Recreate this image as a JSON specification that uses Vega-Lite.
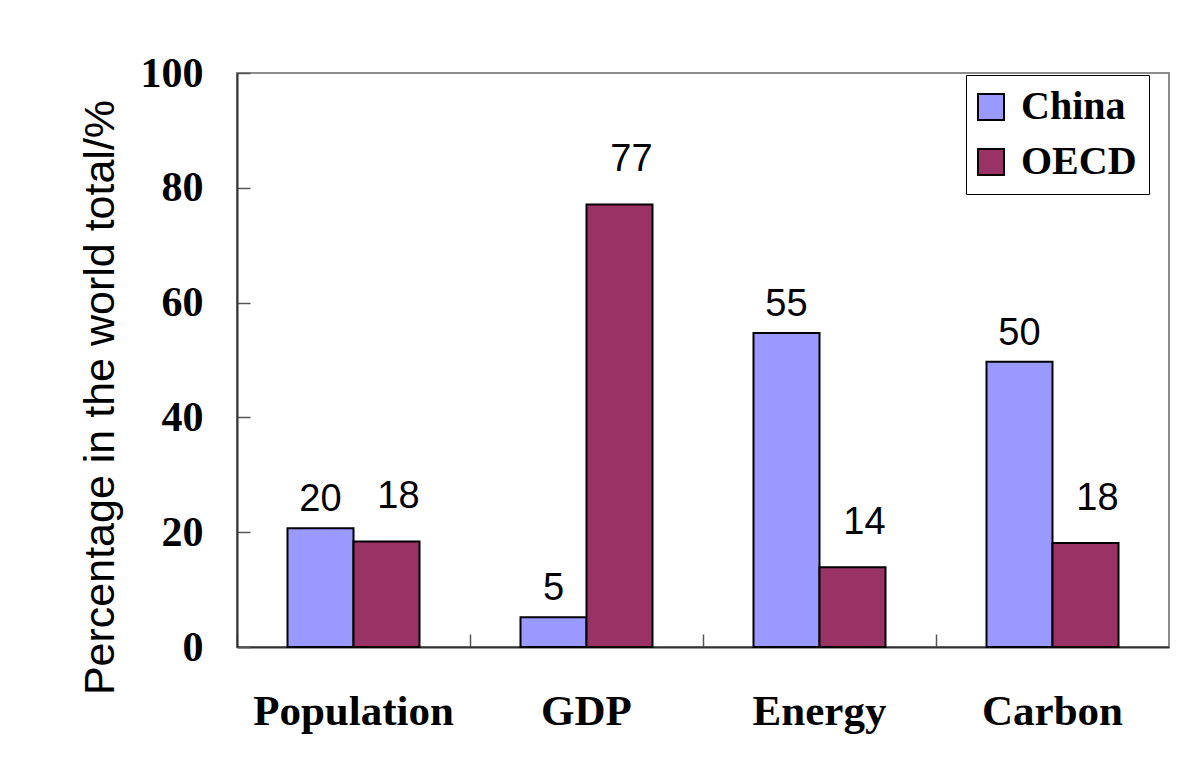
{
  "$schema": "https://vega.github.io/schema/vega-lite/v6.json",
  "width": 932,
  "height": 574,
  "autosize": {"type": "none"},
  "padding": {"left": 237, "top": 73, "right": 13, "bottom": 126},
  "background": "white",
  "config": {"view": {"stroke": "#8c8c8c", "strokeWidth": 2}},
  "data": {
    "values": [
      {"category": "Population", "region": "China", "value": 20.7, "label": "20"},
      {"category": "Population", "region": "OECD", "value": 18.4, "label": "18"},
      {"category": "GDP", "region": "China", "value": 5.2, "label": "5"},
      {"category": "GDP", "region": "OECD", "value": 77.1, "label": "77"},
      {"category": "Energy", "region": "China", "value": 54.7, "label": "55"},
      {"category": "Energy", "region": "OECD", "value": 13.9, "label": "14"},
      {"category": "Carbon", "region": "China", "value": 49.7, "label": "50"},
      {"category": "Carbon", "region": "OECD", "value": 18.1, "label": "18"}
    ]
  },
  "encoding": {
    "x": {
      "field": "category",
      "type": "nominal",
      "sort": ["Population", "GDP", "Energy", "Carbon"],
      "scale": {"paddingInner": 0, "paddingOuter": 0},
      "axis": {
        "title": null,
        "labelAngle": 0,
        "labelFont": "Liberation Serif",
        "labelFontWeight": "bold",
        "labelFontSize": 43,
        "labelColor": "black",
        "labelPadding": 56,
        "labelLimit": 400,
        "bandPosition": 0,
        "tickSize": -13,
        "tickColor": "#555555",
        "tickWidth": 1.5,
        "domainColor": "#333333",
        "domainWidth": 2
      }
    },
    "xOffset": {
      "field": "region",
      "type": "nominal",
      "scale": {"paddingInner": 0, "paddingOuter": 0.765}
    },
    "y": {
      "field": "value",
      "type": "quantitative",
      "scale": {"domain": [0, 100], "nice": false},
      "axis": {
        "title": "Percentage in the world total/%",
        "titleFont": "Liberation Sans",
        "titleFontWeight": "normal",
        "titleFontSize": 43,
        "titleColor": "black",
        "titleX": -137,
        "titleY": 324,
        "titleAlign": "center",
        "titleBaseline": "middle",
        "titleAngle": -90,
        "values": [0, 20, 40, 60, 80, 100],
        "labelFont": "Liberation Serif",
        "labelFontWeight": "bold",
        "labelFontSize": 42,
        "labelColor": "black",
        "labelPadding": 47,
        "tickSize": -13,
        "tickColor": "#555555",
        "tickWidth": 1.5,
        "grid": false,
        "domainColor": "#333333",
        "domainWidth": 2
      }
    }
  },
  "layer": [
    {
      "mark": {"type": "bar", "stroke": "black", "strokeWidth": 2},
      "encoding": {
        "color": {
          "field": "region",
          "type": "nominal",
          "scale": {"domain": ["China", "OECD"], "range": ["#9999ff", "#993366"]},
          "legend": {
            "title": null,
            "orient": "none",
            "legendX": 729,
            "legendY": 2,
            "direction": "vertical",
            "strokeColor": "black",
            "fillColor": "white",
            "padding": 12,
            "rowPadding": 15,
            "symbolType": "square",
            "symbolSize": 676,
            "symbolOffset": -7,
            "symbolStrokeColor": "black",
            "symbolStrokeWidth": 2,
            "symbolOpacity": 1,
            "labelFont": "Liberation Serif",
            "labelFontWeight": "bold",
            "labelFontSize": 40,
            "labelColor": "black",
            "labelOffset": 10,
            "labelLimit": 300
          }
        }
      }
    },
    {
      "transform": [{"filter": "datum.region === 'China'"}],
      "mark": {"type": "text", "font": "Liberation Sans", "fontSize": 38, "baseline": "middle", "dy": -28, "color": "black"},
      "encoding": {"text": {"field": "label"}}
    },
    {
      "transform": [{"filter": "datum.region === 'OECD'"}],
      "mark": {"type": "text", "font": "Liberation Sans", "fontSize": 38, "baseline": "middle", "dy": -44, "dx": 12, "color": "black"},
      "encoding": {"text": {"field": "label"}}
    }
  ]
}
